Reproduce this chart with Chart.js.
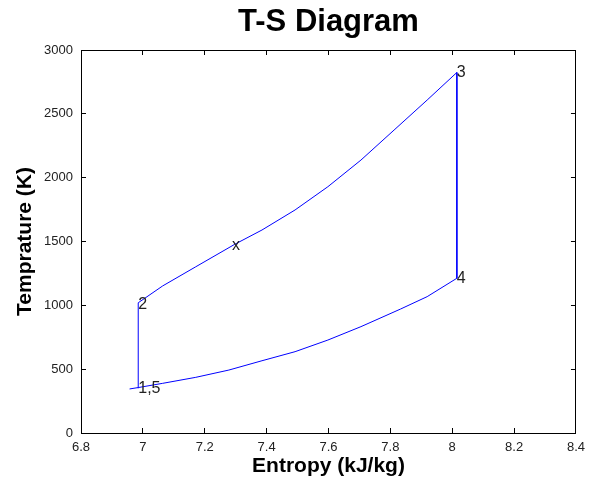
<!DOCTYPE html>
<html>
<head>
<meta charset="utf-8">
<script src="https://cdn.jsdelivr.net/npm/chart.js@4/dist/chart.umd.min.js"></script>
<style>
html,body{margin:0;padding:0;background:#fff;}
#wrap{width:597px;height:482px;}
</style>
</head>
<body>
<div id="wrap"><canvas id="c" width="597" height="482"></canvas></div>
<script>
// ---- data ----
// compression 1 -> 2 (vertical)
const compressionS = [6.985, 6.985];
const compressionT = [350, 1020];
// heat addition 2 -> x -> 3 (curve)
const heatAddS = [6.985, 7.064, 7.171, 7.297, 7.385, 7.492, 7.598, 7.705, 7.812, 7.919, 8.015];
const heatAddT = [1020, 1152, 1302, 1478, 1590, 1747, 1929, 2138, 2373, 2608, 2824];
// expansion 3 -> 4 (vertical)
const expansionS = [8.015, 8.015];
const expansionT = [2824, 1212];
// heat rejection 4 -> 5 (curve)
const heatRejS = [8.015, 7.919, 7.833, 7.705, 7.598, 7.492, 7.385, 7.278, 7.171, 7.064, 6.985, 6.957];
const heatRejT = [1212, 1068, 971, 833, 728, 637, 566, 493, 436, 389, 356, 345];
// state point labels
const stateLabels = ["1,5", "2", "x", "3", "4"];
const stateS = [6.985, 6.985, 7.288, 8.015, 8.015];
const stateT = [345, 1008, 1465, 2824, 1212];
// axes
const xTickValues = [6.8, 7, 7.2, 7.4, 7.6, 7.8, 8, 8.2, 8.4];
const xTickLabels = ["6.8", "7", "7.2", "7.4", "7.6", "7.8", "8", "8.2", "8.4"];
const yTickValues = [0, 500, 1000, 1500, 2000, 2500, 3000];
const yTickLabels = ["0", "500", "1000", "1500", "2000", "2500", "3000"];

const cycleS = [].concat(compressionS, heatAddS.slice(1), expansionS.slice(1), heatRejS.slice(1));
const cycleT = [].concat(compressionT, heatAddT.slice(1), expansionT.slice(1), heatRejT.slice(1));
const cyclePoints = cycleS.map((s, i) => ({x: s, y: cycleT[i]}));

const FONT = "'Liberation Sans', Arial, Helvetica, sans-serif";

const stateLabelPlugin = {
  id: 'stateLabels',
  afterDatasetsDraw(chart) {
    const ctx = chart.ctx;
    const xs = chart.scales.x, ys = chart.scales.y;
    ctx.save();
    ctx.font = "16px " + FONT;
    ctx.fillStyle = "#222";
    ctx.textAlign = "left";
    ctx.textBaseline = "middle";
    stateLabels.forEach((t, i) => {
      ctx.fillText(t, xs.getPixelForValue(stateS[i]), ys.getPixelForValue(stateT[i]));
    });
    ctx.restore();
  }
};

function fixTicks(values) {
  return function(scale) { scale.ticks = values.map(v => ({value: v})); };
}

const gridOpts = {drawOnChartArea: false, color: '#000', tickLength: -5, lineWidth: 1};
const borderOpts = {display: true, color: '#000', width: 1};

new Chart(document.getElementById('c'), {
  type: 'scatter',
  data: {
    datasets: [{
      data: cyclePoints,
      showLine: true,
      borderColor: '#0000ff',
      borderWidth: 1,
      pointRadius: 0,
      fill: false,
      tension: 0
    }]
  },
  plugins: [stateLabelPlugin],
  options: {
    responsive: false,
    animation: false,
    devicePixelRatio: 1,
    layout: {padding: {left: 0, right: 17, top: 0, bottom: 0}},
    plugins: {
      legend: {display: false},
      tooltip: {enabled: false},
      title: {display: false}
    },
    scales: {
      x: {
        type: 'linear', position: 'bottom', min: 6.8, max: 8.4,
        afterBuildTicks: fixTicks(xTickValues),
        afterFit(s) { s.height = 49; },
        grid: gridOpts, border: borderOpts,
        ticks: {
          color: '#222', font: {family: FONT, size: 13}, padding: 12, maxRotation: 0,
          callback: (v, i) => xTickLabels[i]
        },
        title: {display: true, text: 'Entropy (kJ/kg)', color: '#000',
          font: {family: FONT, size: 21, weight: 'bold'}, padding: {top: 0, bottom: 3}}
      },
      x2: {
        type: 'linear', position: 'top', min: 6.8, max: 8.4,
        afterBuildTicks: fixTicks(xTickValues),
        afterFit(s) { s.height = 50; },
        grid: gridOpts, border: borderOpts,
        ticks: {display: false},
        title: {display: true, text: 'T-S Diagram', color: '#000',
          font: {family: FONT, size: 31, weight: 'bold'}, padding: {top: 4, bottom: 0}}
      },
      y: {
        type: 'linear', position: 'left', min: 0, max: 3000,
        afterBuildTicks: fixTicks(yTickValues),
        afterFit(s) { s.width = 81; },
        grid: gridOpts, border: borderOpts,
        ticks: {
          color: '#222', font: {family: FONT, size: 13}, padding: 13,
          callback: (v, i) => yTickLabels[i]
        },
        title: {display: true, text: 'Temprature (K)', color: '#000',
          font: {family: FONT, size: 21, weight: 'bold'}, padding: {top: 13, bottom: 0}}
      },
      y2: {
        type: 'linear', position: 'right', min: 0, max: 3000,
        afterBuildTicks: fixTicks(yTickValues),
        afterFit(s) { s.width = 0; },
        grid: gridOpts, border: borderOpts,
        ticks: {display: false}
      }
    }
  }
});
</script>
</body>
</html>
